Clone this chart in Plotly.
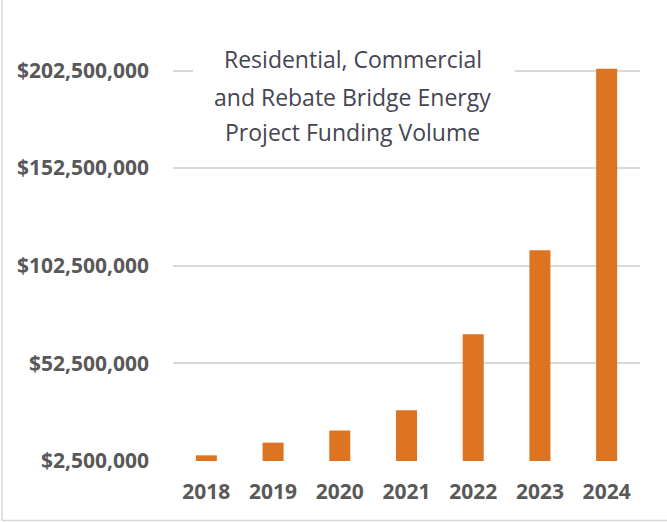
import plotly.graph_objects as go

years = ["2018", "2019", "2020", "2021", "2022", "2023", "2024"]
funding = [5400000, 11900000, 18100000, 28500000, 67400000, 110400000, 203400000]
tick_vals = [2500000, 52500000, 102500000, 152500000, 202500000]
tick_text = ["$2,500,000", "$52,500,000", "$102,500,000", "$152,500,000", "$202,500,000"]
title_lines = ["Residential, Commercial", "and Rebate Bridge Energy", "Project Funding Volume"]
title_line_y = [0.98, 0.889, 0.803]

fig = go.Figure()
fig.add_trace(go.Bar(
    x=years, y=funding, base=0,
    marker=dict(color="#DC7421", line=dict(width=0)),
    hoverinfo="x+y",
))

annotations = [
    dict(text=t, xref="paper", yref="paper", x=0.385, y=yy,
         xanchor="center", yanchor="middle", showarrow=False,
         font=dict(family="Open Sans", size=23, color="#454552"))
    for t, yy in zip(title_lines, title_line_y)
]

fig.update_layout(
    width=667, height=522,
    margin=dict(l=173, r=27, t=51, b=61, autoexpand=False),
    paper_bgcolor="white", plot_bgcolor="white",
    bargap=0.685,
    showlegend=False,
    font=dict(family="Open Sans", color="#595959"),
    xaxis=dict(
        type="category", automargin=False,
        tickfont=dict(size=21, color="#595959", weight="bold"),
        showgrid=False, showline=False, ticks="",
        ticklabelstandoff=16,
    ),
    yaxis=dict(
        range=[2500000, 212500000], automargin=False,
        tickvals=tick_vals, ticktext=tick_text,
        tickfont=dict(size=21, color="#595959", weight="bold"),
        showgrid=True, gridcolor="#D9D9D9", gridwidth=1.5,
        zeroline=False, showline=False, ticks="",
        ticklabelstandoff=23,
    ),
    annotations=annotations,
    shapes=[
        dict(type="rect", xref="paper", yref="paper", x0=0.043, x1=0.732, y0=0.76, y1=1.03,
             fillcolor="white", line=dict(width=0), layer="above"),
        dict(type="line", xref="paper", yref="paper", x0=-0.366, x1=-0.366, y0=-0.145, y1=1.2,
             line=dict(color="#D9D9D9", width=1.5)),
        dict(type="line", xref="paper", yref="paper", x0=-0.366, x1=1.06, y0=-0.145, y1=-0.145,
             line=dict(color="#D9D9D9", width=1.5)),
    ],
)

fig.write_html("out.html", post_script="document.body.style.margin='0';",
               config={"displayModeBar": False})
